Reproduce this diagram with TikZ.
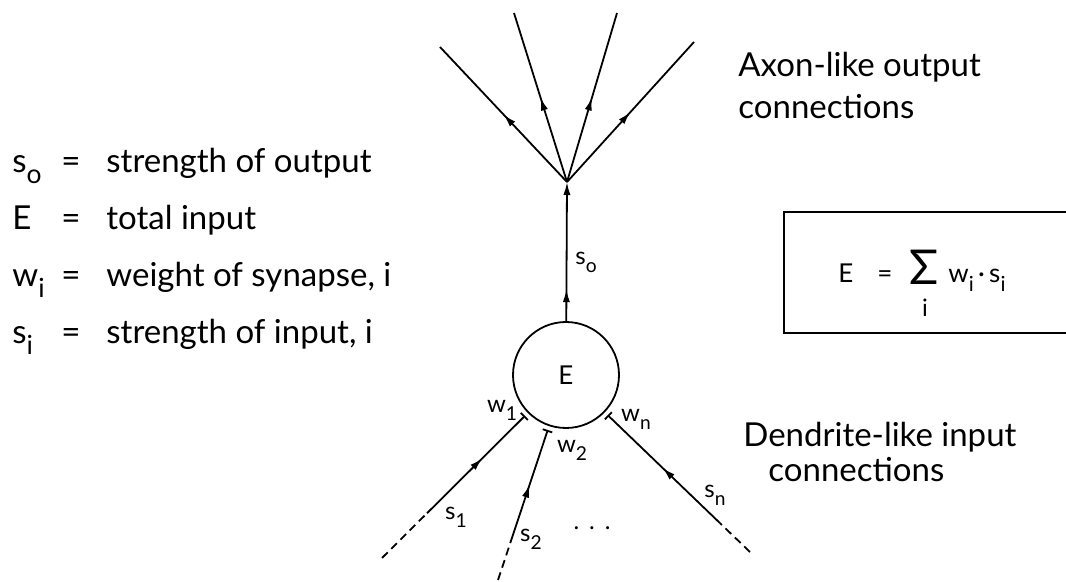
\documentclass[tikz,border=0pt]{standalone}
\usepackage{fontspec}
\setmainfont{Lato}
\usetikzlibrary{arrows.meta,decorations.markings,calc,positioning}
\newcommand\lowsub[1]{\raisebox{-0.33em}{\scalebox{0.8}{#1}}}

\begin{document}
\begin{tikzpicture}[x=0.5pt,y=-0.5pt,
    txt/.style={font=\fontsize{16.5}{20}\selectfont, inner sep=0pt},
    lbl/.style={font=\fontsize{12}{14}\selectfont, inner sep=0pt},
    fml/.style={font=\fontsize{13}{15}\selectfont, inner sep=0pt},
    wire/.style={line width=0.9pt},
    midarrow/.style={postaction={decorate}, decoration={markings,
        mark=at position #1 with {\arrow{Latex[length=6.5pt,width=3.6pt]}}}},
    synapse/.style={-{Bar[width=5pt,line width=0.9pt]}, shorten >=2pt}]

    \useasboundingbox (0,0) rectangle (1066,582);

	% Legend
	\foreach \sym/\txt [count=\k] in {s\lowsub{o}/strength of output, E/total input,
	    w\lowsub{i}/{weight of synapse, i}, s\lowsub{i}/{strength of input, i}} {
	  \pgfmathsetmacro\rowy{116+57*\k}
	  \node[txt, anchor=base west] (sym\k) at (12,\rowy) {\sym};
	  \node[txt, anchor=base] (eq\k) at (71,\rowy) {=};
	  \node[txt, anchor=base west] (def\k) at (106,\rowy) {\txt};
	}

	% Neuron body
	\node[draw, circle, wire, minimum size=53pt, inner sep=0pt, fml] (E) at (566,375) {E};
	\coordinate (hillock) at (567,182);
	\draw[wire, midarrow=0.23, -{Latex[length=6.5pt,width=3.6pt]}] (E) -- (hillock);
	\node[lbl] (so) at (586,262) {s\lowsub{o}};

	% Axon-like outputs
	\foreach \n/\x/\y in {1/440/47, 2/514/13, 3/617/13, 4/694/42}
	  \coordinate (out\n) at (\x,\y);
	\foreach \n in {1,...,4}
	  \draw[wire, midarrow=0.5] (hillock) -- (out\n);

	% Dendrite-like inputs
	\coordinate (in1) at (382,558);
	\coordinate (in2) at (498,580);
	\coordinate (inn) at (750,552);
	\coordinate (in1d) at ($(in1)!0.245!(E)$);
	\coordinate (in2d) at ($(in2)!0.18!(E)$);
	\coordinate (innd) at ($(inn)!0.163!(E)$);
	\draw[wire, dash pattern=on 4pt off 2.5pt] (in1) -- (in1d);
	\draw[wire, dash pattern=on 4pt off 2.5pt] (in2) -- (in2d);
	\draw[wire, dash pattern=on 4pt off 2.5pt] (inn) -- (innd);
	\draw[wire, synapse, midarrow=0.55] (in1d) -- (E);
	\draw[wire, synapse, midarrow=0.5] (in2d) -- (E);
	\draw[wire, synapse, midarrow=0.5] (innd) -- (E);

	\node[lbl] (w1) at (502,410) {w\lowsub{1}};
	\node[lbl] (w2) at (572,450) {w\lowsub{2}};
	\node[lbl] (wn) at (636,419) {w\lowsub{n}};
	\node[lbl] (s1) at (456,517) {s\lowsub{1}};
	\node[lbl] (s2) at (531,539) {s\lowsub{2}};
	\node[lbl] (sn) at (715,495) {s\lowsub{n}};
	\node[lbl] (dots) at (592,528) {.\hspace{5pt}.\hspace{5pt}.};

	% Captions
	\node[txt, anchor=base west] (axon) at (738,77) {Axon-like output};
	\node[txt, anchor=base west] (axon2) at (738,119) {connections};
	\node[txt, anchor=base west] (dendrite) at (743,447) {Dendrite-like input};
	\node[txt, anchor=base west] (dendrite2) at (768,482) {connections};

	% Summation box
	\draw[wire] (784,212) rectangle (1075,333);
	\node[fml, anchor=base west] (lhs) at (838,283) {E\hspace{12pt}=};
	\node[fml, anchor=base west, font=\fontsize{24}{28}\selectfont] (sigma) at (909,285) {Σ};
	\node[lbl, anchor=north] (sigmai) at (925,299) {i};
	\node[fml, anchor=base west] (rhs) at (948,283) {w\lowsub{i}\,·\,s\lowsub{i}};

\end{tikzpicture}
\end{document}
